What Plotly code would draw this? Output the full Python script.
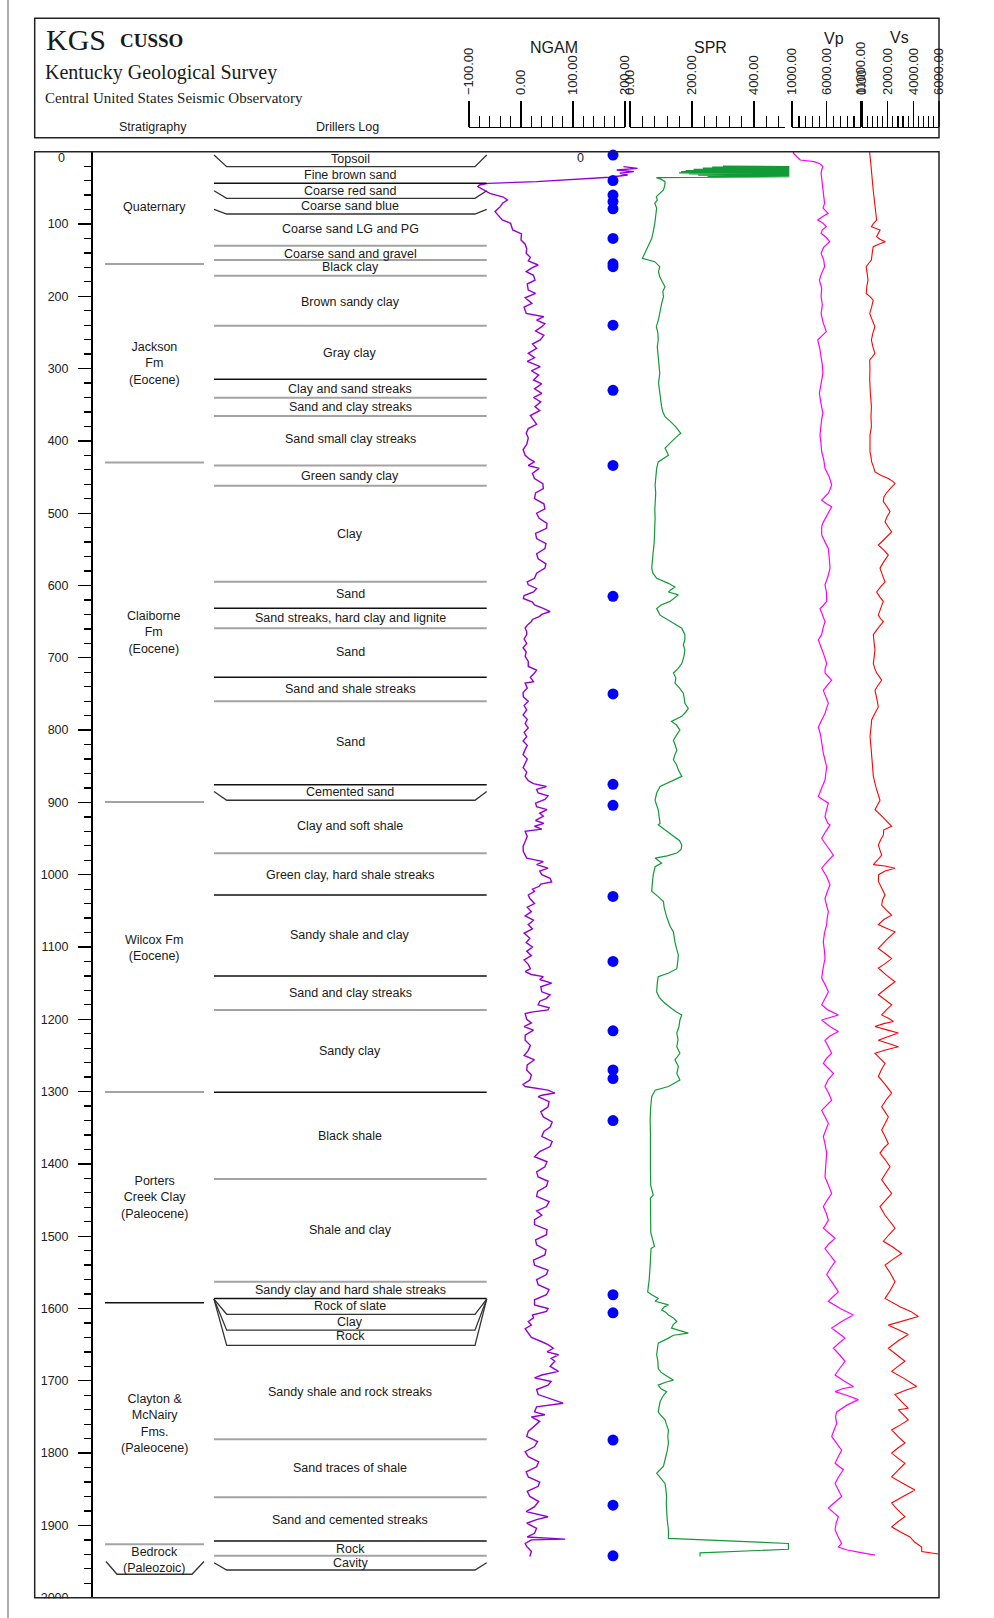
import plotly.graph_objects as go

# ---------------- DATA ----------------
# Driller's log units: label, label depth (ft), bottom depth, boundary style, bevel-top depth
drill_labels = ["Topsoil", "Fine brown sand", "Coarse red sand", "Coarse sand blue", "Coarse sand LG and PG",
                "Coarse sand and gravel", "Black clay", "Brown sandy clay", "Gray clay", "Clay and sand streaks",
                "Sand and clay streaks", "Sand small clay streaks", "Green sandy clay", "Clay", "Sand",
                "Sand streaks, hard clay and lignite", "Sand", "Sand and shale streaks", "Sand", "Cemented sand",
                "Clay and soft shale", "Green clay, hard shale streaks", "Sandy shale and clay", "Sand and clay streaks",
                "Sandy clay", "Black shale", "Shale and clay", "Sandy clay and hard shale streaks", "Rock of slate",
                "Clay", "Rock", "Sandy shale and rock streaks", "Sand traces of shale", "Sand and cemented streaks",
                "Rock", "Cavity"]
drill_label_depth = [10, 32, 55, 75, 107, 141, 160, 208, 279, 328, 353, 398, 448, 529, 612, 645, 692, 743, 816,
                     886, 933, 1000, 1084, 1163, 1244, 1361, 1491, 1575, 1597, 1618, 1638, 1715, 1821, 1892,
                     1932, 1952]
drill_bottom = [20.7, 43.7, 64.5, 86.2, 130, 149.8, 171.5, 240.7, 314.8, 340.2, 365.6, 434, 462, 594.7, 631.5,
                659.2, 727, 760, 875.6, 897, 970.4, 1028, 1140, 1187, 1301, 1421, 1563, 1586, 1608, 1630, 1651,
                1781, 1861, 1921.6, 1942, 1961.7]
drill_style = ["bevel", "black", "bevel", "bevel", "gray", "gray", "gray", "gray", "black", "gray", "gray", "gray",
               "gray", "gray", "black", "gray", "black", "gray", "black", "bevel", "gray", "black", "black", "gray",
               "black", "gray", "gray", "black", "bevel", "bevel", "bevel", "gray", "gray", "black", "gray", "bevel"]
drill_bevel_top = [4.6, None, 54, 79.7, None, None, None, None, None, None, None, None, None, None, None, None,
                   None, None, None, 885, None, None, None, None, None, None, None, None, 1587, 1587, 1587, None,
                   None, None, None, 1951.6]

# Stratigraphy
strat_labels = ["Quaternary", "Jackson<br>Fm<br>(Eocene)", "Claiborne<br>Fm<br>(Eocene)", "Wilcox Fm<br>(Eocene)",
                "Porters<br>Creek Clay<br>(Paleocene)", "Clayton &<br>McNairy<br>Fms.<br>(Paleocene)",
                "Bedrock<br>(Paleozoic)"]
strat_label_depth = [77, 293, 665, 1101, 1446, 1759, 1948]
strat_bottom = [155.3, 430, 899.5, 1300.6, 1592, 1926, 1967.6]
strat_style = ["gray", "gray", "gray", "gray", "black", "gray", "bevel"]
strat_bevel_top = [None, None, None, None, None, None, 1950]

# Sample points (blue dots)
sample_depth = [4.6, 40, 60, 69, 79, 120, 155, 159, 240, 330, 434, 615, 750, 875, 904, 1030, 1120, 1216, 1270,
                1282, 1340, 1581, 1606, 1782, 1872, 1942]

# NGAM log (depth ft, value)
ngam_points = [
    (20.7, 197), (23.0, 224), (25.3, 184), (27.6, 217), (29.9, 190), (32.2, 205), (35.4, 170), (38.2, 104),
    (41.4, 30), (43.8, -63), (46, -80), (48.4, -83), (53, -70), (57.6, -60), (62.7, -34), (66.8, -26), (71, -35),
    (76, -40), (82.9, -50), (88, -44), (94.5, -36), (99, -20), (108.3, -16), (113.6, 1), (122.1, 0), (128, 8),
    (134.4, 11), (140.6, 10), (146, 18), (151, 14), (156.7, 33), (161, 20), (166, 10), (171, 24), (177.5, 27),
    (183, 12), (191.3, 14), (196, 28), (202, 8), (209.8, 21), (215, 6), (223.6, 10), (228.2, 44), (233, 30),
    (238, 46), (242, 40), (248, 28), (254, 44), (260.4, 37), (266, 22), (272, 30), (278.9, 14), (285, 26),
    (290, 12), (297.3, 37), (303, 20), (309, 34), (315.7, 24), (321, 40), (328, 26), (334.2, 40), (340, 24),
    (346, 38), (352.6, 27), (358, 36), (365, 18), (371, 24), (377, 30), (383, 14), (389.5, 10), (396, 14),
    (405, 11), (412, 4), (420, 8), (425, 16), (429, 26), (434, 14), (438, 35), (445, 22), (452, 26), (459, 42),
    (466, 43), (472, 28), (480, 26), (487, 44), (494, 46), (500, 30), (507, 35), (514, 50), (521, 49), (528, 28),
    (535, 30), (542, 48), (549, 46), (556, 30), (563, 33), (570, 48), (576, 46), (583, 30), (590, 26), (595, 12),
    (599, 14), (604, 30), (609, 24), (614, 6), (618, 4.5), (623, 22), (627, 26), (632, 44), (636, 56), (640, 40),
    (643, 35), (647, 22), (650, 20), (655, 12), (659, 8), (664, 11), (668, 11), (674, 6), (680, 11), (686, 4),
    (692, 10), (698, 8), (705, 14), (712, 14), (717, 30), (721, 26), (727, 18), (733, 24), (735, 8), (742, 12),
    (748, 4), (754, 4.5), (760, 14), (766, 6), (772, 11), (779, 4), (785, 12), (791, 8), (797, 14), (803, 6),
    (809, 11), (815, 4), (821, 12), (827, 8), (834, 4), (840, 12), (846, 8), (852, 4), (858, 11), (864, 8),
    (870, 14), (874, 24), (878, 49), (882, 30), (887, 33), (891, 52), (896, 46), (901, 28), (906, 30), (910, 50),
    (915, 36), (919, 43), (925, 28), (929, 44), (933, 26), (937, 40), (940, 8), (947, 12), (954, 8), (961, 4),
    (968, 4.5), (973, 8), (977, 11), (982, 43), (986, 30), (991, 52), (995, 36), (1000, 40), (1005, 56),
    (1010, 59), (1013, 38), (1016, 35), (1020, 22), (1023, 26), (1028, 14), (1033, 17), (1040, 26), (1045, 12),
    (1051, 20), (1057, 8), (1063, 24), (1069, 14), (1075, 22), (1081, 6), (1088, 17), (1094, 10), (1100, 22),
    (1106, 11), (1112, 20), (1118, 6), (1124, 14), (1130, 18), (1134, 8), (1138, 20), (1141, 43), (1145, 36),
    (1150, 59), (1155, 38), (1162, 40), (1166, 56), (1171, 49), (1175, 36), (1180, 33), (1184, 54), (1187, 52),
    (1190, 20), (1192, 8), (1200, 11), (1205, 20), (1210, 6), (1215, 24), (1222, 8), (1229, 8), (1236, 18),
    (1243, 14), (1250, 6), (1256, 26), (1263, 12), (1270, 11), (1277, 20), (1284, 17), (1290, 4), (1293, 8),
    (1298, 52), (1302, 65), (1305, 40), (1307, 33), (1314, 54), (1321, 52), (1328, 38), (1335, 43), (1342, 60),
    (1349, 56), (1355, 44), (1362, 40), (1369, 60), (1376, 56), (1383, 36), (1390, 26), (1397, 50), (1404, 46),
    (1411, 30), (1418, 33), (1424, 52), (1431, 49), (1438, 32), (1445, 30), (1452, 54), (1459, 49), (1465, 30),
    (1471, 40), (1477, 26), (1484, 26), (1491, 50), (1498, 49), (1505, 28), (1512, 30), (1519, 48), (1526, 46),
    (1533, 24), (1540, 26), (1547, 52), (1553, 49), (1560, 30), (1567, 33), (1574, 54), (1581, 49), (1588, 26),
    (1595, 26), (1600, 52), (1604, 49), (1609, 22), (1613, 24), (1618, 14), (1623, 20), (1628, 8), (1634, 14),
    (1640, 20), (1646, 40), (1650, 52), (1655, 62), (1660, 50), (1664, 72), (1669, 58), (1673, 65), (1680, 56),
    (1687, 72), (1692, 40), (1696, 26), (1701, 58), (1706, 52), (1712, 30), (1719, 33), (1725, 56), (1731, 81),
    (1736, 30), (1743, 26), (1747, 46), (1750, 20), (1756, 36), (1763, 26), (1770, 14), (1777, 11), (1784, 32),
    (1791, 26), (1798, 8), (1805, 14), (1812, 34), (1819, 30), (1826, 10), (1833, 14), (1840, 36), (1846, 33),
    (1853, 12), (1860, 17), (1867, 34), (1874, 26), (1881, 10), (1888, 52), (1892, 30), (1897, 11), (1904, 30),
    (1911, 26), (1916, 12), (1919, 85), (1920, 20), (1925, 8), (1929, 11), (1936, 20), (1943, 17)]

# SPR log (depth ft, value)
spr_points = [
    (19.8, 300), (20.5, 514), (21.2, 265), (22.0, 514), (22.8, 235), (23.6, 514), (24.4, 205), (25.2, 514),
    (26.0, 180), (26.8, 514), (27.6, 165), (28.5, 514), (29.3, 158), (30.0, 514), (30.8, 190), (31.6, 514),
    (32.4, 220), (33.2, 514), (34.0, 250), (34.5, 514), (35.9, 85), (38, 100), (41.4, 113), (47, 112), (53, 108),
    (58, 95), (62.2, 85), (67, 88), (71.4, 80), (78, 86), (85.2, 85), (92, 82), (99.1, 80), (106, 78),
    (112.9, 74), (120, 70), (126.7, 63), (137, 52), (147.5, 40), (152.1, 80), (159, 96), (166, 92), (172.9, 96),
    (180, 104), (186.7, 113), (193, 106), (200.6, 108), (210, 102), (223.6, 96), (232, 92), (242, 85), (251, 90),
    (260.4, 91), (270, 88), (283.5, 91), (295, 94), (306.5, 96), (320, 92), (334.2, 96), (344, 98), (352.6, 102),
    (360, 106), (366.4, 113), (373, 130), (380.3, 147), (389.5, 164), (392, 156), (401, 134), (410, 113),
    (420, 124), (429, 91), (438, 86), (450, 84), (461, 81), (472, 83), (484, 81), (495, 80), (507, 81), (518, 80),
    (530, 81), (541, 78), (553, 75), (565, 73), (576, 70), (583, 74), (590, 86), (597, 124), (602, 145),
    (606, 132), (609, 124), (613, 156), (618, 140), (622, 129), (627, 100), (632, 86), (641, 97), (650, 134),
    (659, 167), (668, 177), (675, 177), (682, 172), (689, 177), (698, 174), (708, 167), (715, 155), (721, 140),
    (728, 148), (735, 145), (742, 160), (749, 172), (756, 175), (763, 177), (770, 188), (775, 180), (781, 167),
    (788, 134), (793, 150), (800, 161), (807, 150), (814, 140), (821, 146), (828, 151), (834, 145), (841, 140),
    (848, 150), (855, 156), (864, 167), (871, 134), (878, 97), (887, 86), (897, 81), (904, 86), (910, 91),
    (920, 94), (929, 97), (931, 91), (938, 113), (947, 145), (953, 160), (959, 167), (965, 165), (970, 151),
    (974, 120), (977, 81), (981, 95), (984, 102), (989, 81), (1000, 75), (1012, 72), (1023, 70), (1030, 90),
    (1037, 108), (1045, 110), (1051, 113), (1058, 118), (1065, 124), (1072, 130), (1079, 140), (1086, 142),
    (1093, 145), (1102, 150), (1111, 156), (1120, 154), (1130, 151), (1136, 125), (1141, 91), (1150, 88),
    (1162, 86), (1170, 95), (1176, 108), (1185, 134), (1190, 150), (1194, 167), (1201, 161), (1210, 158),
    (1219, 151), (1228, 155), (1238, 151), (1247, 161), (1256, 145), (1265, 156), (1275, 151), (1284, 161),
    (1293, 124), (1298, 81), (1307, 70), (1320, 67), (1339, 65), (1360, 66), (1385, 65), (1410, 66), (1430, 67),
    (1440, 72), (1443, 75), (1447, 66), (1460, 66), (1478, 65), (1495, 67), (1514, 79), (1517, 68), (1540, 65),
    (1560, 62), (1577, 57), (1581, 70), (1586, 91), (1590, 81), (1595, 124), (1598, 110), (1602, 102),
    (1605, 115), (1609, 124), (1613, 140), (1618, 151), (1622, 140), (1627, 134), (1630, 160), (1634, 188),
    (1637, 140), (1641, 124), (1648, 91), (1656, 88), (1664, 86), (1673, 90), (1683, 91), (1688, 100),
    (1692, 113), (1699, 140), (1702, 115), (1706, 91), (1711, 100), (1715, 118), (1722, 105), (1729, 97),
    (1736, 95), (1743, 91), (1748, 100), (1754, 113), (1761, 118), (1768, 124), (1777, 122), (1786, 124),
    (1797, 120), (1809, 113), (1818, 108), (1828, 86), (1835, 100), (1842, 113), (1851, 116), (1860, 118),
    (1869, 117), (1878, 118), (1892, 120), (1906, 124), (1918, 124), (1925, 511), (1933, 511), (1938, 226),
    (1943, 226)]

# Vp log (depth ft, ft/s)
vp_points = [
    (0, 1200), (2.2, 1203), (7, 1700), (11.5, 2203), (13.8, 4217), (17, 5100), (20.7, 5477), (25, 5300),
    (29.9, 5216), (40, 5350), (53, 5477), (62, 5600), (71.4, 5724), (78, 5500), (85.2, 6231), (90, 5400),
    (94.5, 4724), (99, 5500), (103.7, 5970), (108, 5400), (112.9, 5216), (118, 5900), (124.4, 6477), (132, 5600),
    (140.6, 5216), (150, 5600), (159, 5724), (168, 5300), (177.5, 4970), (189, 5300), (200.6, 5216), (212, 5400),
    (223.6, 5216), (236, 5500), (248.9, 5970), (255, 5300), (260.4, 4724), (271, 5000), (283.5, 5216),
    (295, 5400), (306.5, 5477), (320, 5200), (334.2, 4970), (348, 5200), (361.8, 5477), (370, 5300),
    (380.3, 5216), (392, 5057), (403, 5200), (415, 5300), (426, 5600), (438, 5782), (450, 6400), (461, 6752),
    (472, 6300), (482, 5300), (487, 6000), (491, 6752), (499, 6300), (507, 5782), (513, 5500), (519, 5300),
    (530, 5300), (540, 5800), (549, 6269), (562, 6400), (576, 6510), (588, 6200), (599, 5782), (610, 6000),
    (622, 6027), (628, 5500), (632, 5057), (640, 5400), (650, 5782), (659, 5500), (668, 5300), (675, 4817),
    (682, 5100), (689, 5300), (698, 5700), (708, 6027), (715, 5800), (721, 5782), (726, 6300), (731, 6752),
    (738, 6100), (745, 5541), (754, 5900), (763, 6269), (770, 6000), (777, 5782), (786, 5300), (796, 4817),
    (805, 5100), (814, 5300), (823, 5400), (832, 5541), (842, 5800), (851, 6027), (860, 5900), (869, 5782),
    (880, 5300), (892, 4817), (897, 5600), (901, 6269), (910, 6000), (920, 5782), (929, 6200), (931, 6510),
    (940, 5900), (950, 5300), (962, 6200), (973, 7000), (982, 6100), (991, 5300), (1002, 6000), (1014, 6510),
    (1024, 6100), (1033, 5782), (1042, 6000), (1051, 6269), (1060, 6100), (1069, 6027), (1081, 5700),
    (1093, 5541), (1105, 5700), (1116, 5782), (1130, 5500), (1143, 5300), (1152, 5800), (1162, 6269),
    (1171, 5800), (1180, 5300), (1187, 6200), (1194, 7720), (1201, 5300), (1210, 6500), (1217, 7720),
    (1223, 6500), (1229, 5782), (1238, 6300), (1247, 6752), (1254, 6000), (1261, 5541), (1268, 6300),
    (1275, 7000), (1284, 6200), (1293, 5782), (1302, 6300), (1312, 6752), (1319, 6000), (1326, 5300),
    (1335, 5800), (1344, 6269), (1353, 5900), (1362, 5541), (1373, 5800), (1385, 6027), (1401, 5900),
    (1418, 5782), (1430, 6300), (1441, 6752), (1450, 6100), (1459, 5541), (1469, 6000), (1478, 6269),
    (1484, 5900), (1489, 5541), (1496, 6400), (1503, 7241), (1510, 6400), (1517, 5782), (1526, 6500),
    (1535, 7241), (1544, 6600), (1553, 6027), (1565, 6900), (1577, 7720), (1584, 6900), (1590, 6269),
    (1600, 8000), (1609, 9890), (1618, 8200), (1627, 6752), (1634, 7700), (1641, 8683), (1648, 7800),
    (1655, 7000), (1664, 7900), (1673, 8683), (1683, 7900), (1692, 7241), (1700, 8500), (1708, 9890),
    (1711, 8300), (1715, 7241), (1720, 8900), (1726, 10614), (1734, 8900), (1743, 7480), (1750, 7300),
    (1759, 7480), (1768, 7100), (1777, 6752), (1787, 7500), (1796, 8200), (1805, 7700), (1814, 7241),
    (1823, 8440), (1832, 7800), (1842, 7241), (1851, 7700), (1860, 8200), (1868, 7200), (1876, 6269),
    (1882, 7000), (1888, 7720), (1897, 7400), (1906, 7241), (1916, 7700), (1925, 8200), (1930, 7720),
    (1934, 9000), (1937, 10614), (1941, 13030)]

# Vs log (depth ft, ft/s)
vs_points = [
    (0, 600), (2.2, 600), (15, 680), (29.9, 733), (42, 800), (53, 873), (65, 950), (76, 1005), (85, 1080),
    (94.5, 1138), (99, 900), (103.7, 733), (108.3, 1411), (113, 1250), (117.5, 1138), (121, 1400), (124.4, 1816),
    (128, 1300), (131.4, 873), (140, 800), (149.8, 733), (155, 500), (159, 327), (168, 400), (177.5, 468),
    (186, 380), (196, 327), (200, 600), (205.2, 873), (215, 750), (223.6, 600), (233, 800), (242, 1005),
    (251, 850), (260.4, 733), (270, 850), (278.9, 1005), (284, 800), (288.1, 600), (300, 620), (315.7, 600),
    (333, 650), (352.6, 733), (367, 700), (380.3, 733), (392, 624), (404, 600), (415, 624), (422, 700),
    (429, 753), (436, 900), (443, 1013), (448, 1500), (452, 2052), (456, 2400), (459, 2572), (466, 2200),
    (472, 1900), (478, 1700), (484, 1663), (491, 1950), (498, 2182), (505, 1950), (512, 1793), (519, 2050),
    (526, 2312), (535, 1800), (544, 1273), (551, 1700), (558, 2052), (567, 1700), (576, 1403), (586, 1600),
    (595, 1793), (602, 1450), (609, 1143), (616, 1400), (622, 1663), (632, 1450), (641, 1273), (646, 1450),
    (650, 1663), (659, 1250), (668, 884), (680, 950), (689, 1013), (698, 950), (708, 884), (715, 1000),
    (721, 1143), (726, 1350), (731, 1533), (738, 1250), (745, 1013), (756, 1150), (768, 1273), (777, 1000),
    (786, 753), (797, 700), (809, 624), (823, 700), (837, 753), (850, 820), (864, 884), (880, 1100), (897, 1403),
    (904, 1200), (910, 1013), (920, 1600), (929, 2100), (933, 2312), (938, 1700), (945, 1663), (952, 1450),
    (959, 1273), (966, 1400), (973, 1533), (980, 1200), (986, 884), (988, 1800), (991, 2572), (995, 1800),
    (1000, 1300), (1009, 1273), (1018, 1550), (1028, 1793), (1035, 1600), (1042, 1533), (1049, 1900),
    (1056, 2312), (1062, 1700), (1069, 1273), (1074, 1900), (1079, 2572), (1090, 1900), (1102, 1273),
    (1109, 1800), (1116, 2312), (1123, 1800), (1129, 1273), (1139, 1900), (1148, 2572), (1157, 1900),
    (1166, 1273), (1173, 1800), (1180, 2312), (1187, 1900), (1194, 1533), (1199, 2100), (1203, 2442),
    (1206, 1700), (1210, 1013), (1215, 2000), (1219, 2832), (1224, 2000), (1229, 1273), (1233, 2000),
    (1238, 2832), (1242, 1900), (1247, 1013), (1254, 1400), (1261, 1793), (1270, 1500), (1279, 1273),
    (1290, 1800), (1302, 2312), (1311, 1900), (1321, 1533), (1328, 1800), (1335, 2052), (1344, 1800),
    (1353, 1533), (1362, 1800), (1372, 2052), (1378, 1700), (1385, 1403), (1394, 1800), (1404, 2182),
    (1413, 1850), (1422, 1533), (1431, 1900), (1441, 2312), (1450, 1850), (1459, 1403), (1468, 1700),
    (1471, 1793), (1480, 2200), (1489, 2572), (1498, 2100), (1507, 1663), (1515, 2400), (1524, 3092),
    (1532, 2400), (1540, 1793), (1551, 2200), (1563, 2572), (1575, 2200), (1586, 1793), (1598, 3000),
    (1604, 3800), (1611, 4390), (1617, 3200), (1623, 2052), (1629, 2800), (1636, 3611), (1645, 2800),
    (1655, 2052), (1664, 2700), (1673, 3351), (1680, 2800), (1687, 2312), (1697, 3300), (1708, 4260),
    (1713, 3400), (1719, 2572), (1729, 3100), (1738, 3611), (1740, 2832), (1747, 3200), (1754, 3611),
    (1761, 3000), (1768, 2312), (1777, 2800), (1786, 3351), (1793, 2800), (1800, 2312), (1807, 2800),
    (1814, 3351), (1824, 2800), (1833, 2312), (1842, 3200), (1851, 4130), (1860, 3200), (1869, 2312),
    (1879, 2800), (1888, 3351), (1895, 2800), (1902, 2312), (1909, 3000), (1916, 3741), (1923, 4100),
    (1930, 4650), (1936, 4653), (1939.5, 5955)]

# ---------------- LAYOUT HELPERS ----------------
W, H = 994, 1618
FL, FR, FT, FB = 34.7, 939.0, 151.7, 1597.7


def px(x):
    return x / W


def py(y):
    return 1 - y / H


def track_range(v0, x0, ppu):
    return [v0 + (FL - x0) / ppu, v0 + (FR - x0) / ppu]


SANS = "Liberation Sans, Arial, sans-serif"
SERIF = "Liberation Serif, Times New Roman, serif"
BLACK = "#111111"
GRAY = "#a3a3a3"

fig = go.Figure()

curves = [
    (ngam_points, "x", "#9400D3", 1.4),
    (spr_points, "x2", "#129a36", 1.2),
    (vp_points, "x3", "#ff00ff", 1.2),
    (vs_points, "x4", "#ff0000", 1.1),
]
for pts, xa, col, lw in curves:
    fig.add_trace(go.Scatter(x=[p[1] for p in pts], y=[p[0] for p in pts], xaxis=xa, yaxis="y", mode="lines",
                             line=dict(color=col, width=lw), hoverinfo="skip", showlegend=False))

fig.add_trace(go.Scatter(x=[0] * len(sample_depth), y=sample_depth, xaxis="x5", yaxis="y", mode="markers",
                         marker=dict(color="#0000ff", size=11), cliponaxis=False, hoverinfo="skip",
                         showlegend=False))

# dummy traces so header scale axes are drawn
for xa in ["x6", "x7", "x8", "x9"]:
    fig.add_trace(go.Scatter(x=[None], y=[None], xaxis=xa, yaxis="y", showlegend=False, hoverinfo="skip"))

depth_axis = dict(range=[2000, 0], autorange=False, showgrid=False, zeroline=False, showline=True,
                  linecolor="black", linewidth=1.5, ticks="outside", ticklen=13, tickwidth=1.3, tickcolor="black",
                  tickmode="array", tickvals=list(range(0, 2001, 100)),
                  ticktext=[""] + [str(v) for v in range(100, 2001, 100)],
                  tickfont=dict(family=SANS, size=12.5, color="#222"), ticklabelstandoff=7,
                  minor=dict(ticks="outside", ticklen=7, tickwidth=1.3, tickcolor="black", dtick=20, tick0=0),
                  side="left", anchor="free")

hdr_common = dict(anchor="free", position=py(126.7), side="top", showgrid=False, zeroline=False, showline=True,
                  linecolor="black", linewidth=1.3, ticks="outside", ticklen=26, tickwidth=1.2, tickcolor="black",
                  tickangle=-90, tickformat=".2f", tickfont=dict(family=SANS, size=13, color="#222"),
                  ticklabelstandoff=3, fixedrange=True)

fig.update_layout(
    width=W, height=H, margin=dict(l=0, r=0, t=0, b=0, autoexpand=False), paper_bgcolor="white",
    plot_bgcolor="rgba(0,0,0,0)", showlegend=False,
    yaxis=dict(domain=[py(FB), py(FT)], position=px(91), **depth_axis),
    yaxis2=dict(overlaying="y", position=px(610), **depth_axis),
    xaxis=dict(domain=[px(FL), px(FR)], range=track_range(0, 521, 0.52), visible=False, anchor="y"),
    xaxis2=dict(overlaying="x", range=track_range(0, 630, 0.31), visible=False, anchor="y"),
    xaxis3=dict(overlaying="x", range=track_range(1000, 792, 0.0069), visible=False, anchor="y"),
    xaxis4=dict(overlaying="x", range=track_range(0, 862, 0.01283), visible=False, anchor="y"),
    xaxis5=dict(domain=[px(603), px(623)], range=[-1, 1], visible=False, anchor="y"),
    xaxis6=dict(domain=[px(469), px(625)], range=[-100, 200], dtick=100, tick0=-100,
                minor=dict(ticks="outside", ticklen=11, tickwidth=1.2, tickcolor="black", dtick=20, tick0=-100),
                **hdr_common),
    xaxis7=dict(domain=[px(630), px(785)], range=[0, 500], dtick=200, tick0=0,
                minor=dict(ticks="outside", ticklen=11, tickwidth=1.2, tickcolor="black", dtick=40, tick0=0),
                **hdr_common),
    xaxis8=dict(domain=[px(792), px(861)], range=[1000, 11000], dtick=5000, tick0=1000,
                minor=dict(ticks="outside", ticklen=11, tickwidth=1.2, tickcolor="black", dtick=1000, tick0=1000),
                **hdr_common),
    xaxis9=dict(domain=[px(862), px(939)], range=[0, 6000], dtick=2000, tick0=0,
                minor=dict(ticks="outside", ticklen=11, tickwidth=1.2, tickcolor="black", dtick=400, tick0=0),
                **hdr_common),
)

shapes = []
annotations = []


def hline(d, x0, x1, style):
    col, w = (BLACK, 1.5) if style == "black" else (GRAY, 2.0)
    shapes.append(dict(type="line", xref="paper", yref="y", x0=px(x0), x1=px(x1), y0=d, y1=d,
                       line=dict(color=col, width=w), layer="above"))


def bevel(dtop, dbot, xl, xr, il, ir):
    path = "M {a},{t} L {b},{d} L {c},{d} L {e},{t}".format(a=px(xl), b=px(xl + il), c=px(xr - ir), e=px(xr),
                                                             t=dtop, d=dbot)
    shapes.append(dict(type="path", xref="paper", yref="y", path=path, line=dict(color="#333", width=1.3),
                       layer="above"))


# Driller's log
for lab, ld, bd, st, bt in zip(drill_labels, drill_label_depth, drill_bottom, drill_style, drill_bevel_top):
    if st == "bevel":
        bevel(bt, bd, 214, 486.7, 12.7, 11.7)
    else:
        hline(bd, 214, 486.7, st)
    annotations.append(dict(x=px(350), y=ld, xref="paper", yref="y", text=lab, showarrow=False,
                            xanchor="center", yanchor="middle", font=dict(family=SANS, size=12.5, color="#1a1a1a")))

# Stratigraphy
for lab, ld, bd, st, bt in zip(strat_labels, strat_label_depth, strat_bottom, strat_style, strat_bevel_top):
    if st == "bevel":
        bevel(bt, bd, 106, 204, 11, 12)
    else:
        hline(bd, 105, 204, st)
    annotations.append(dict(x=px(154), y=ld, xref="paper", yref="y", text=lab, showarrow=False,
                            xanchor="center", yanchor="middle", font=dict(family=SANS, size=12.5, color="#1a1a1a")))

# cover overflow of bottom depth labels, then frames
shapes.append(dict(type="rect", xref="paper", yref="paper", x0=px(36), x1=px(938), y0=py(1640), y1=py(1598.6),
                   fillcolor="white", line=dict(width=0), layer="above"))
shapes.append(dict(type="rect", xref="paper", yref="paper", x0=px(FL), x1=px(FR), y0=py(FB), y1=py(FT),
                   line=dict(color="#222", width=1.5), layer="above"))
shapes.append(dict(type="rect", xref="paper", yref="paper", x0=px(34.7), x1=px(939), y0=py(137.7), y1=py(18.3),
                   line=dict(color="#222", width=1.5), layer="above"))
shapes.append(dict(type="line", xref="paper", yref="paper", x0=px(8), x1=px(8), y0=py(1640), y1=py(-10),
                   line=dict(color="#777", width=1.2), layer="above"))

# top "0" depth labels
for xr in (67, 586):
    annotations.append(dict(x=px(xr), y=py(158), xref="paper", yref="paper", text="0", showarrow=False,
                            xanchor="right", yanchor="middle", font=dict(family=SANS, size=12.5, color="#222")))

# header texts
hdr = [
    ("KGS", 44, 40, SERIF, 30, "left"),
    ("<b>CUSSO</b>", 118, 41, SERIF, 19, "left"),
    ("Kentucky Geological Survey", 43, 73, SERIF, 20, "left"),
    ("Central United States Seismic Observatory", 43, 98.5, SERIF, 15, "left"),
    ("Stratigraphy", 153, 127, SANS, 12.5, "center"),
    ("Drillers Log", 347, 127, SANS, 12.5, "center"),
    ("NGAM", 554, 47, SANS, 16, "center"),
    ("SPR", 710, 47, SANS, 16, "center"),
    ("Vp", 834, 38, SANS, 16, "center"),
    ("Vs", 899, 37, SANS, 16, "center"),
]
for t, x, y, fam, sz, anc in hdr:
    annotations.append(dict(x=px(x), y=py(y), xref="paper", yref="paper", text=t, showarrow=False,
                            xanchor=anc, yanchor="middle", font=dict(family=fam, size=sz, color="#1a1a1a")))

fig.update_layout(shapes=shapes, annotations=annotations)
fig.write_html("out.html", config={"staticPlot": True, "displayModeBar": False},
               post_script="document.body.style.margin='0px';document.body.style.overflow='hidden';")
